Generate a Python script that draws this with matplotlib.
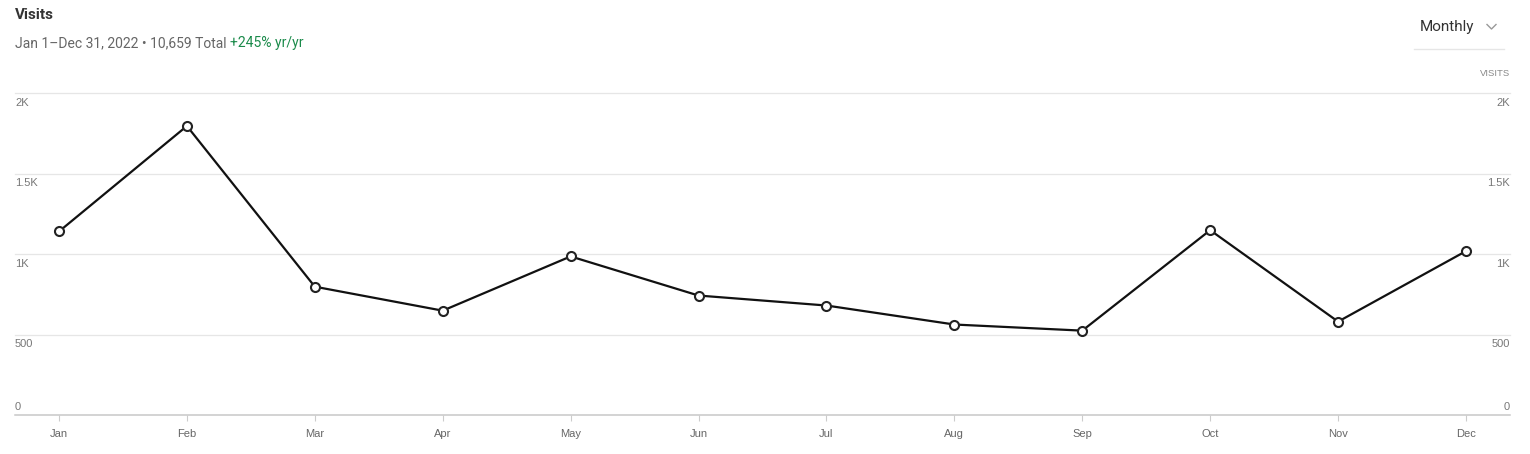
import numpy as np
import matplotlib.pyplot as plt
from matplotlib.transforms import blended_transform_factory

# Monthly visits, 2022
months = ["Jan", "Feb", "Mar", "Apr", "May", "Jun",
          "Jul", "Aug", "Sep", "Oct", "Nov", "Dec"]
visits = [1140, 1795, 797, 648, 985, 742, 680, 562, 524, 1148, 580, 1018]
y_ticks = [0, 500, 1000, 1500, 2000]
y_tick_labels = ["0", "500", "1K", "1.5K", "2K"]

title = "Visits"
subtitle = "Jan 1\u2013Dec 31, 2022 \u2022 10,659 Total "
growth = "+245% yr/yr"

plt.rcParams["font.family"] = ["Roboto", "DejaVu Sans"]

fig = plt.figure(figsize=(15.3, 4.54), dpi=100)
ax = fig.add_axes([15 / 1530, 39 / 454, 1495 / 1530, 322 / 454])

x = np.arange(len(months))
ax.plot(x, visits, color="#111111", lw=1.6, marker="o", ms=6.5,
        mfc="white", mec="#222222", mew=1.5, zorder=3, clip_on=False)

ax.set_xlim(-0.344, len(months) - 1 + 0.344)
ax.set_ylim(0, 2000)

# gridlines
for v in y_ticks[1:]:
    ax.axhline(v, color="#e6e6e6", lw=0.9, zorder=1, clip_on=False)
ax.axhline(0, color="#c8c8c8", lw=1.1, zorder=1, clip_on=False)

for s in ax.spines.values():
    s.set_visible(False)

ax.set_yticks([])
ax.set_xticks(x)
ax.set_xticklabels(months, fontsize=8, color="#666666",
                   family=["Liberation Sans"])
ax.tick_params(axis="x", length=4, width=0.8, color="#cccccc", pad=6)

# y labels on both sides
tr = blended_transform_factory(ax.transAxes, ax.transData)
for v, lab in zip(y_ticks, y_tick_labels):
    dy = 6 if v == 0 else -7
    for side, ha in ((0, "left"), (1, "right")):
        ax.annotate(lab, xy=(side, v), xycoords=tr, xytext=(0, dy),
                    textcoords="offset points", ha=ha, va="center",
                    fontsize=8, color="#777777", family=["Liberation Sans"])

# header
fig.text(15 / 1530, 1 - 15 / 454, title, fontsize=11, fontweight="bold",
         color="#333333", va="center", ha="left")
t = fig.text(15 / 1530, 1 - 43 / 454, subtitle, fontsize=10,
             color="#666666", va="center", ha="left")
fig.canvas.draw()
bb = t.get_window_extent()
fig.text(bb.x1 / 1530, 1 - 43 / 454, growth, fontsize=10,
         color="#1a8a4a", va="center", ha="left")

# period selector
fig.text(1420 / 1530, 1 - 27 / 454, "Monthly", fontsize=11,
         color="#333333", va="center", ha="left")
fig.add_artist(plt.Line2D([1487 / 1530, 1491.5 / 1530, 1496 / 1530],
                          [1 - 24.5 / 454, 1 - 29 / 454, 1 - 24.5 / 454],
                          color="#999999", lw=1.0))
fig.add_artist(plt.Line2D([1414 / 1530, 1504 / 1530],
                          [1 - 49 / 454, 1 - 49 / 454],
                          color="#e6e6e6", lw=1.0))
fig.text(1510 / 1530, 1 - 74 / 454, "VISITS", fontsize=6.8, color="#888888",
         va="center", ha="right", family=["Liberation Sans"])

fig.savefig("out.png", dpi=100)
